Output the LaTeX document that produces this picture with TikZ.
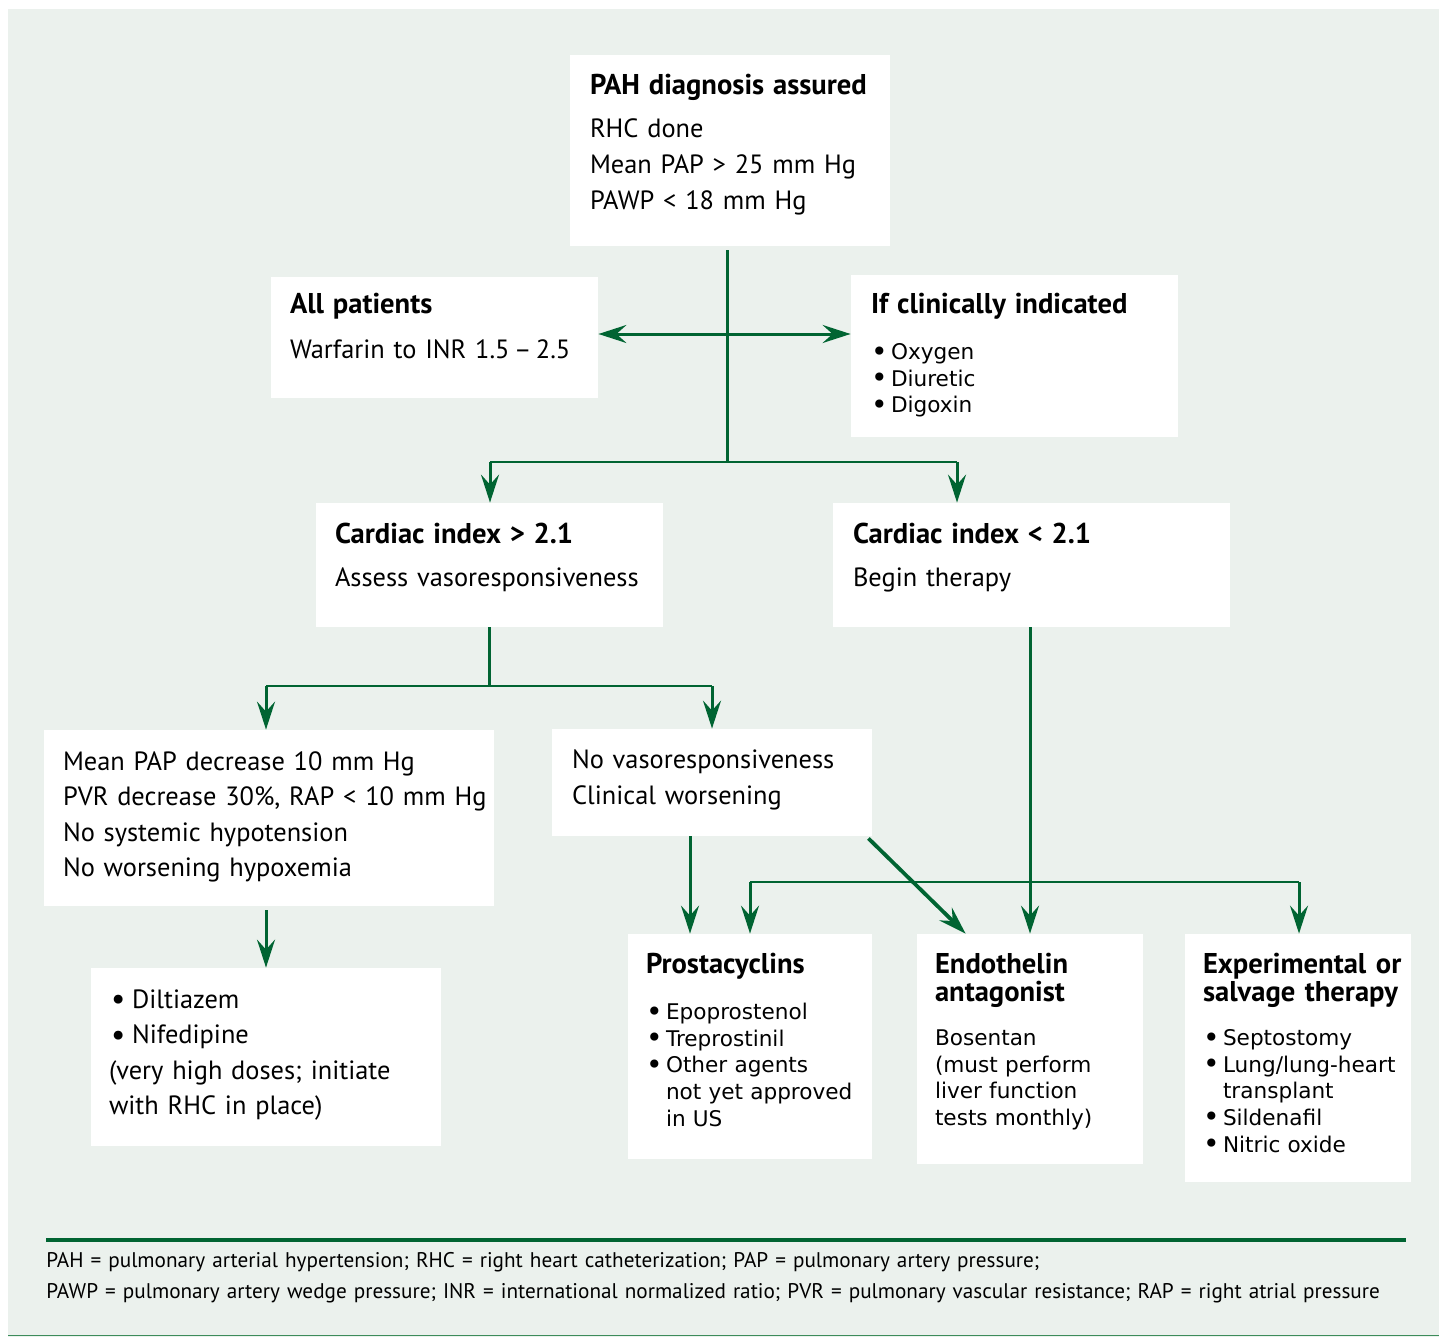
\documentclass[tikz,border=0pt]{standalone}
\usepackage{fontspec}
\usepackage{graphicx}
\setmainfont{PT Sans}
\newfontfamily\bulfont{DejaVu Sans}
\usetikzlibrary{arrows.meta,fit,calc}
\definecolor{gr}{RGB}{0,100,50}
\definecolor{bg}{RGB}{235,241,237}
\definecolor{gl}{RGB}{60,140,90}
\newcommand{\mainsz}{\fontsize{13.2}{18}\selectfont}
\newcommand{\bulsz}{\bulfont\fontsize{10.8}{13.3}\selectfont}
\newcommand{\ttl}[1]{{\fontsize{14.3}{18}\selectfont\bfseries #1}}
\newcommand{\bb}{\makebox[10pt][l]{\raisebox{-0.07em}{\scalebox{1.3}{\textbullet}}}}
\newcommand{\bm}{\hspace*{1pt}\makebox[10.5pt][l]{\raisebox{-0.05em}{\scalebox{1.2}{\textbullet}}}}
\begin{document}
\begin{tikzpicture}[x=0.5pt,y=-0.5pt,
  box/.style={fill=white, inner sep=0pt, draw=none},
  txt/.style={inner sep=0pt, anchor=base west, align=left, font=\mainsz},
  lst/.style={inner sep=0pt, anchor=base west, align=left, font=\bulsz},
  conn/.style={draw=gr, line width=1.5pt},
  thin/.style={draw=gr, line width=1.1pt},
  arr/.style={conn, -{Stealth[length=14pt,width=9pt,inset=5pt]}}
]
\useasboundingbox (0,0) rectangle (1439,1337);
\fill[white] (0,0) rectangle (1439,1337);
\fill[bg] (8,9) rectangle (1439,1337);

% boxes
\node[box, fit={(570,55) (890,246)}] (top) {};
\node[box, fit={(271,277) (598,398)}] (allp) {};
\node[box, fit={(851,275) (1178,437)}] (ifcl) {};
\node[box, fit={(316,503) (663,627)}] (ci1) {};
\node[box, fit={(833,503) (1230,627)}] (ci2) {};
\node[box, fit={(44,730) (494,906)}] (mpap) {};
\node[box, fit={(552,729) (872,836)}] (novaso) {};
\node[box, fit={(91,968) (441,1146)}] (dilt) {};
\node[box, fit={(628,934) (872,1159)}] (prost) {};
\node[box, fit={(917,934) (1143,1164)}] (endo) {};
\node[box, fit={(1185,934) (1411,1182)}] (exper) {};

% texts
\node[txt, text width=150pt] (top-t) at ($(top.north west)+(20,40)$)
  {\ttl{PAH diagnosis assured}\\[3.25pt]RHC done\\Mean PAP {>} 25 mm Hg\\PAWP {<} 18 mm Hg};
\node[txt, text width=155pt] (allp-t) at ($(allp.north west)+(19,37)$)
  {\ttl{All patients}\\[4.5pt]Warfarin to INR 1.5\,–\,2.5};
\node[txt, text width=155pt] (ifcl-t) at ($(ifcl.north west)+(20,39)$)
  {\ttl{If clinically indicated}};
\node[lst, text width=150pt] (ifcl-l) at ($(ifcl.north west)+(20,85)$)
  {\bb Oxygen\\\bb Diuretic\\\bb Digoxin};
\node[txt, text width=165pt] (ci1-t) at ($(ci1.north west)+(19,41)$)
  {\ttl{Cardiac index {>} 2.1}\\[3.5pt]Assess vasoresponsiveness};
\node[txt, text width=185pt] (ci2-t) at ($(ci2.north west)+(20,41)$)
  {\ttl{Cardiac index {<} 2.1}\\[3.5pt]Begin therapy};
\node[txt, text width=220pt, font=\fontsize{13.2}{17.65}\selectfont] (mpap-t) at ($(mpap.north west)+(19,41)$)
  {Mean PAP decrease 10 mm Hg\\PVR decrease 30\%, RAP {<} 10 mm Hg\\No systemic hypotension\\No worsening hypoxemia};
\node[txt, text width=150pt] (novaso-t) at ($(novaso.north west)+(20,40)$)
  {No vasoresponsiveness\\Clinical worsening};
\node[txt, text width=165pt, font=\fontsize{13.2}{17.65}\selectfont] (dilt-t) at ($(dilt.north west)+(18,41)$)
  {\bm Diltiazem\\\bm Nifedipine\\(very high doses; initiate\\with RHC in place)};
\node[txt, text width=112pt] (prost-t) at ($(prost.north west)+(18,40)$)
  {\ttl{Prostacyclins}};
\node[lst, text width=112pt] (prost-l) at ($(prost.north west)+(18,86)$)
  {\bb Epoprostenol\\\bb Treprostinil\\\bb Other agents\\\hspace*{10pt}not yet approved\\\hspace*{10pt}in US};
\node[txt, text width=105pt, font=\fontsize{14.3}{14}\selectfont\bfseries] (endo-t) at ($(endo.north west)+(18,40)$)
  {Endothelin\\antagonist};
\node[lst, text width=105pt] (endo-l) at ($(endo.north west)+(18,112)$)
  {Bosentan\\(must perform\\liver function\\tests monthly)};
\node[txt, text width=105pt, font=\fontsize{14.3}{14}\selectfont\bfseries] (exper-t) at ($(exper.north west)+(18,40)$)
  {Experimental or\\salvage therapy};
\node[lst, text width=105pt] (exper-l) at ($(exper.north west)+(18,112)$)
  {\bb Septostomy\\\bb Lung/lung-heart\\\hspace*{10pt}transplant\\\bb Sildenafil\\\bb Nitric oxide};

% connectors
\coordinate (t1) at (727,334);
\coordinate (t2) at (727,462);
\coordinate (c1) at (490,462);
\coordinate (c2) at (957,462);
\coordinate (d1) at (266,686);
\coordinate (d2) at (712,686);
\coordinate (p1) at (690,900);
\coordinate (e1) at (750,882);
\coordinate (e2) at (1299,882);

\draw[conn] ($(t2 |- top.south)+(0,4)$) -- (t2);
\draw[arr] (t1) -- (allp.east |- t1);
\draw[arr] (t1) -- (ifcl.west |- t1);
\draw[thin] (c1) -- (c2);
\draw[arr] (c1) -- (c1 |- ci1.north);
\draw[arr] (c2) -- (c2 |- ci2.north);
\draw[conn] (ci1.south) -- (ci1.south |- d1);
\draw[thin] (d1) -- (d2);
\draw[arr] (d1) -- (d1 |- mpap.north);
\draw[arr] (d2) -- (d2 |- novaso.north);
\draw[arr] ($(dilt.north |- mpap.south)+(0,4)$) -- (dilt.north);
\draw[arr] (p1 |- novaso.south) -- (p1 |- prost.north);
\draw[arr, line width=1.9pt] ($(novaso.south east)+(-4,2)$) -- ($(endo.north west)+(49,0)$);
\draw[arr] (endo.north |- ci2.south) -- (endo.north);
\draw[thin] (e1) -- (e2);
\draw[arr] (e1) -- (e1 |- prost.north);
\draw[arr] (e2) -- (e2 |- exper.north);

% footer
\draw[gr, line width=1.7pt] (46,1240) -- (1406,1240);
\node[txt, text width=690pt, font=\fontsize{10.6}{15.5}\selectfont] (foot) at (46,1267)
  {PAH = pulmonary arterial hypertension; RHC = right heart catheterization; PAP = pulmonary artery pressure;\\
   PAWP = pulmonary artery wedge pressure; INR = international normalized ratio; PVR = pulmonary vascular resistance; RAP = right atrial pressure};
\draw[gl, line width=0.8pt] (8,1335.5) -- (1439,1335.5);
\end{tikzpicture}
\end{document}
